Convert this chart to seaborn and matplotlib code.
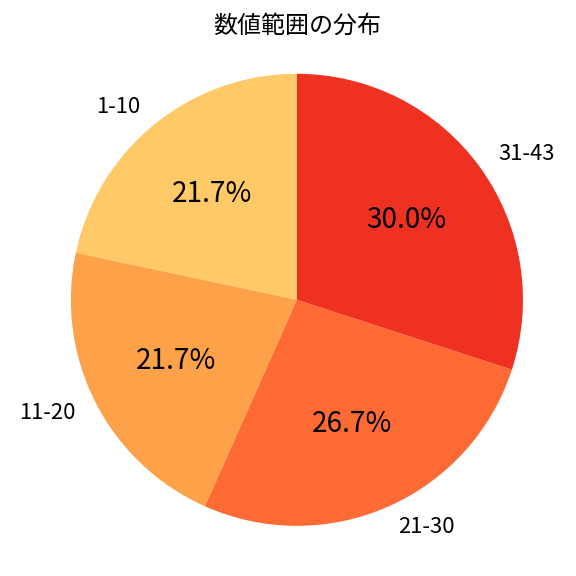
import seaborn as sns
import matplotlib.pyplot as plt

sns.set_theme(style='white')
plt.rcParams['font.family'] = ['Noto Sans CJK JP', 'DejaVu Sans']

labels = ['1-10', '11-20', '21-30', '31-43']
counts = [13, 13, 16, 18]
colors = ['#FEC966', '#FDA248', '#FD6A33', '#EF3122']

fig = plt.figure(figsize=(8, 8), dpi=72)
ax = fig.add_axes([0.025, -0.011, 0.981, 0.981])
wedges, texts, autotexts = ax.pie(counts, labels=labels, colors=colors,
                                  autopct='%1.1f%%', startangle=90,
                                  wedgeprops={'linewidth': 0},
                                  textprops={'color': 'black'})
for t in texts:
    t.set_fontsize(22)
for t in autotexts:
    t.set_fontsize(28)
ax.set_xlim(-1.25, 1.25)
ax.set_ylim(-1.25, 1.25)
ax.set_aspect('equal')
fig.text(0.516, 0.955, '数値範囲の分布', fontsize=24, ha='center', va='center', color='black')
plt.savefig('out.png', dpi=72)
